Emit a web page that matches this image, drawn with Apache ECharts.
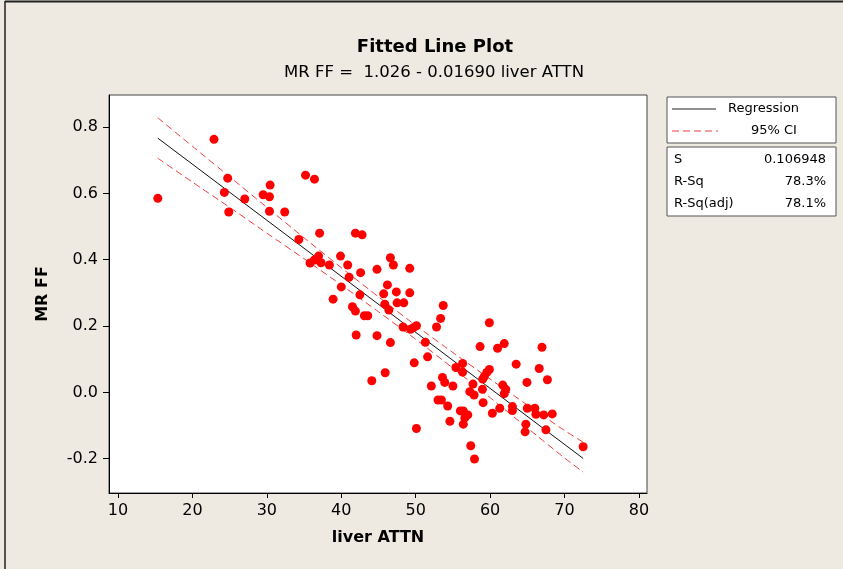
<!DOCTYPE html>
<html>
<head>
<meta charset="utf-8">
<script src="https://cdn.jsdelivr.net/npm/echarts@6/dist/echarts.min.js"></script>
<style>
  html, body { margin: 0; padding: 0; background: #EEEAE1; }
  #chart { width: 843px; height: 569px; }
</style>
</head>
<body>
<div id="chart"></div>
<script>
// Liver attenuation vs MR fat fraction
const attn = [
  15.35, 22.9, 24.74, 24.29, 24.88, 27.03, 29.5, 30.35, 30.44, 30.35,
  32.4, 35.2, 34.3, 35.8, 36.4, 37.09, 41.9, 42.8, 36.4, 36.95,
  37.28, 38.4, 39.9, 40.86, 42.6, 41.05, 40.0, 38.9, 42.5, 41.5,
  41.9, 43.1, 43.56, 42.0, 44.8, 46.6, 47.0, 49.2, 46.2, 45.7,
  47.4, 49.2, 45.85, 46.4, 47.5, 48.4, 53.7, 53.35, 52.8, 48.3,
  49.3, 50.1, 49.7, 44.8, 46.6, 51.3, 51.6, 49.8, 45.9, 44.1,
  55.4, 56.3, 56.3, 53.6, 59.9, 58.65, 61.0, 61.9, 66.97, 63.5,
  66.6, 67.7, 64.95, 59.9, 59.55, 59.2, 59.0, 53.9, 55.0, 52.1,
  57.7, 61.7, 62.1, 61.9, 58.97, 57.27, 57.85, 53.0, 53.45, 54.3,
  59.06, 61.3, 60.3, 56.0, 56.4, 57.0, 56.6, 56.4, 54.6, 63.0,
  63.0, 65.0, 66.0, 66.15, 67.2, 68.35, 64.8, 64.7, 67.5, 72.5,
  57.4, 57.9, 50.1
];
const mrff = [
  0.585, 0.763, 0.646, 0.603, 0.544, 0.583, 0.596, 0.590, 0.625, 0.546,
  0.544, 0.655, 0.461, 0.390, 0.643, 0.480, 0.480, 0.475, 0.399, 0.411,
  0.391, 0.384, 0.411, 0.384, 0.361, 0.347, 0.318, 0.281, 0.294, 0.258,
  0.245, 0.231, 0.231, 0.173, 0.371, 0.406, 0.384, 0.374, 0.324, 0.297,
  0.303, 0.300, 0.266, 0.248, 0.270, 0.270, 0.262, 0.223, 0.197, 0.197,
  0.190, 0.201, 0.195, 0.171, 0.150, 0.151, 0.107, 0.089, 0.059, 0.035,
  0.075, 0.087, 0.061, 0.045, 0.210, 0.138, 0.133, 0.147, 0.136, 0.085,
  0.072, 0.038, 0.030, 0.069, 0.060, 0.047, 0.040, 0.030, 0.019, 0.019,
  0.025, 0.022, 0.009, -0.004, 0.009, 0.002, -0.008, -0.023, -0.023, -0.041,
  -0.031, -0.048, -0.063, -0.056, -0.056, -0.068, -0.077, -0.096, -0.087, -0.043,
  -0.055, -0.048, -0.048, -0.066, -0.068, -0.065, -0.096, -0.119, -0.113, -0.164,
  -0.161, -0.201, -0.109
];

// Fitted equation: MR FF = 1.026 - 0.01690 liver ATTN
const intercept = 1.026;
const slope = -0.01690;
const fitX = [15.35, 72.5];

// 95% confidence band for the mean response
const ciX     = [15.35, 20, 25, 30, 35, 40, 45, 50, 55, 60, 65, 70, 72.5];
const ciUpper = [0.828, 0.742, 0.650, 0.558, 0.466, 0.376, 0.288, 0.202, 0.120, 0.040, -0.038, -0.115, -0.150];
const ciLower = [0.706, 0.634, 0.558, 0.480, 0.403, 0.324, 0.243, 0.160, 0.073, -0.016, -0.107, -0.198, -0.240];

const xTicks = [10, 20, 30, 40, 50, 60, 70, 80];
const yTicks = [-0.2, 0.0, 0.2, 0.4, 0.6, 0.8];

const statsRows = [
  ['S', '0.106948'],
  ['R-Sq', '78.3%'],
  ['R-Sq(adj)', '78.1%']
];

const FONT = 'DejaVu Sans';
const CI_COLOR = '#F03C3C';

const points = attn.map((x, i) => [x, mrff[i]]);
const fitLine = fitX.map(x => [x, intercept + slope * x]);
const upper = ciX.map((x, i) => [x, ciUpper[i]]);
const lower = ciX.map((x, i) => [x, ciLower[i]]);

const chart = echarts.init(document.getElementById('chart'), null, { renderer: 'canvas' });

const legendGraphics = [
  // series key box
  { type: 'rect', shape: { x: 667, y: 97, width: 169, height: 46 },
    style: { fill: '#FFFFFF', stroke: '#555555', lineWidth: 1 }, z: 10 },
  { type: 'line', shape: { x1: 672, y1: 109, x2: 716, y2: 109 },
    style: { stroke: '#222222', lineWidth: 1 }, z: 11 },
  { type: 'text', x: 728, y: 109, z: 11,
    style: { text: 'Regression', font: '13px ' + FONT, fill: '#000', verticalAlign: 'middle' } },
  { type: 'line', shape: { x1: 672, y1: 131, x2: 718, y2: 131 },
    style: { stroke: CI_COLOR, lineWidth: 1, lineDash: [7, 4] }, z: 11 },
  { type: 'text', x: 751, y: 131, z: 11,
    style: { text: '95% CI', font: '13px ' + FONT, fill: '#000', verticalAlign: 'middle' } },
  // summary statistics box
  { type: 'rect', shape: { x: 667, y: 147, width: 169, height: 69 },
    style: { fill: '#FFFFFF', stroke: '#555555', lineWidth: 1 }, z: 10 }
];
statsRows.forEach((row, i) => {
  const y = 160 + i * 22;
  legendGraphics.push({ type: 'text', x: 674, y: y, z: 11,
    style: { text: row[0], font: '13px ' + FONT, fill: '#000', verticalAlign: 'middle' } });
  legendGraphics.push({ type: 'text', x: 826, y: y, z: 11,
    style: { text: row[1], font: '13px ' + FONT, fill: '#000', verticalAlign: 'middle', align: 'right' } });
});
// window frame on left and top
legendGraphics.push({ type: 'line', shape: { x1: 5, y1: 1.5, x2: 843, y2: 1.5 },
  style: { stroke: '#222222', lineWidth: 2 } });
legendGraphics.push({ type: 'line', shape: { x1: 5, y1: 1, x2: 5, y2: 569 },
  style: { stroke: '#222222', lineWidth: 1.5 } });

chart.setOption({
  backgroundColor: '#EEEAE1',
  animation: false,
  textStyle: { fontFamily: FONT },
  title: [
    { text: 'Fitted Line Plot', left: 430, top: 33, textAlign: 'center',
      textStyle: { fontFamily: FONT, fontWeight: 'bold', fontSize: 18, color: '#000' } },
    { text: 'MR FF =  1.026 - 0.01690 liver ATTN', left: 429, top: 59, textAlign: 'center',
      textStyle: { fontFamily: FONT, fontWeight: 'normal', fontSize: 16.5, color: '#000' } }
  ],
  grid: {
    left: 109, right: 196, top: 95, bottom: 76,
    show: true, backgroundColor: '#FFFFFF', borderColor: '#444444', borderWidth: 1
  },
  xAxis: {
    type: 'value', min: 8.79, max: 81.08,
    name: 'liver ATTN', nameLocation: 'middle', nameGap: 37,
    nameTextStyle: { fontFamily: FONT, fontWeight: 'bold', fontSize: 16, color: '#000' },
    axisLine: { show: true, onZero: false, lineStyle: { color: '#000', width: 1 } },
    axisTick: { show: true, inside: false, length: 5, customValues: xTicks, lineStyle: { color: '#000' } },
    axisLabel: { customValues: xTicks, margin: 10, fontSize: 16, color: '#000', fontFamily: FONT },
    splitLine: { show: false }
  },
  yAxis: {
    type: 'value', min: -0.3035, max: 0.8967,
    name: 'MR FF', nameLocation: 'middle', nameGap: 58, nameRotate: 90,
    nameTextStyle: { fontFamily: FONT, fontWeight: 'bold', fontSize: 16, color: '#000' },
    axisLine: { show: true, onZero: false, lineStyle: { color: '#000', width: 1 } },
    axisTick: { show: true, inside: false, length: 6, customValues: yTicks, lineStyle: { color: '#000' } },
    axisLabel: { customValues: yTicks, margin: 11, fontSize: 16, color: '#000', fontFamily: FONT,
      formatter: v => v.toFixed(1) },
    splitLine: { show: false }
  },
  graphic: legendGraphics,
  series: [
    { name: '95% CI upper', type: 'line', data: upper, showSymbol: false, smooth: 0.2, z: 2,
      lineStyle: { color: CI_COLOR, width: 1, type: [7, 4] } },
    { name: '95% CI lower', type: 'line', data: lower, showSymbol: false, smooth: 0.2, z: 2,
      lineStyle: { color: CI_COLOR, width: 1, type: [7, 4] } },
    { name: 'Regression', type: 'line', data: fitLine, showSymbol: false, z: 3,
      lineStyle: { color: '#111111', width: 1 } },
    { name: 'MR FF', type: 'scatter', data: points, symbol: 'circle', symbolSize: 9, z: 4,
      itemStyle: { color: '#FF0000', opacity: 1 } }
  ]
});
</script>
</body>
</html>
